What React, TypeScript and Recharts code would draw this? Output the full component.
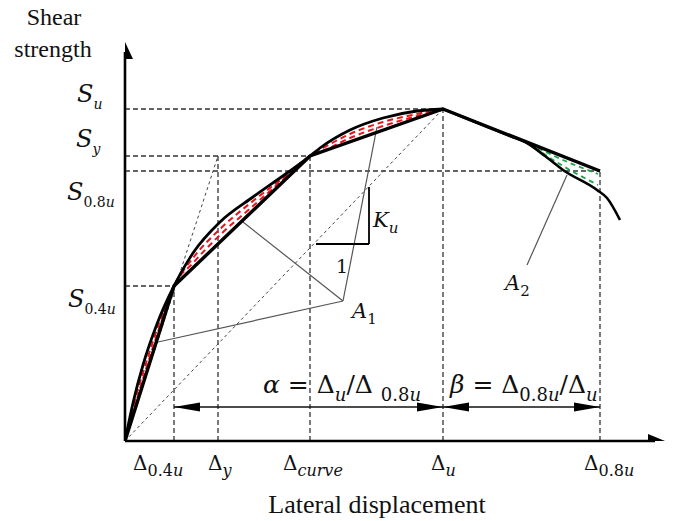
import React from 'react';
import { ComposedChart, Line, XAxis, YAxis, ReferenceLine, Scatter, Label } from 'recharts';

const MATH = '"DejaVu Serif", serif';
const TEXT = '"Liberation Serif", "Times New Roman", serif';

// Characteristic displacements (drawing units along the horizontal axis)
const dispKeys = ['0.4u', 'y', 'curve', 'u', '0.8u'];
const dispValues = [49, 93, 185, 318, 475];
// Characteristic strengths (drawing units along the vertical axis)
const strengthKeys = ['0.4u', '0.8u', 'y', 'u'];
const strengthValues = [155, 270, 285, 332];

const [D04, Dy, Dcurve, Du, D08] = dispValues;
const [S04, S08, Sy, Su] = strengthValues;

// Actual (measured) backbone curve: rising branch and falling branch
const riseX = [0, 8, 18, 32, 49, 68, 95, 128, 162, 185, 195, 225, 258, 292, 318];
const riseY = [0, 38, 76, 117, 155, 188, 219, 244, 268, 285, 293, 311, 323, 330, 332];
const fallX = [318, 355, 385, 402, 420, 438, 472, 482, 495];
const fallY = [332, 317, 305, 298, 285, 271, 251, 243, 221];

// Idealized polyline through the characteristic points
const idealX = [0, D04, Dcurve, Du, D08];
const idealY = [0, S04, Sy, Su, S08];

// Red hatch lines inside area A1
const hatchAX = [4, 12, 22, 35, 49, 68, 95, 128, 162, 185, 200, 225, 258, 292, 310];
const hatchAY = [17, 48, 81, 120, 155, 183, 212, 240, 266, 285, 294, 307, 319, 327, 331];
const hatchBX = [4, 12, 22, 35, 49, 68, 95, 128, 162, 185, 200, 225, 258, 292, 310];
const hatchBY = [14, 42, 75, 115, 155, 178, 206, 235, 265, 285, 291, 303, 315, 325, 330];

// Green hatch lines inside area A2
const greenAX = [405, 438, 473];
const greenAY = [297, 281, 267];
const greenBX = [410, 438, 473];
const greenBY = [293, 275, 256];

// Pointer lines for A1 / A2 and the K_u slope triangle
const a1Vertex = { x: 218, y: 140 };
const a1Targets = [{ x: 118, y: 219 }, { x: 252, y: 314 }, { x: 33, y: 99 }];
const a2From = { x: 442, y: 266 };
const a2To = { x: 402, y: 176 };
const kuX = [191, 244];
const kuY = [197, 254];

const axisXEnd = 540;
const axisYEnd = 399;
const dimLevel = 34;

const annotations = [
  { x: 227, y: 123, key: 'A1' },
  { x: 380, y: 151, key: 'A2' },
  { x: 248, y: 214, key: 'Ku' },
  { x: 217, y: 168, key: 'one' },
  { x: 138, y: 48, key: 'alpha' },
  { x: 325, y: 48, key: 'beta' },
];

const arrowHeads = [
  { x: axisXEnd, y: 0, kind: 'axisR' },
  { x: 0, y: axisYEnd, kind: 'axisU' },
  { x: D04, y: dimLevel, kind: 'dimL' },
  { x: Du, y: dimLevel, kind: 'dimR' },
  { x: Du, y: dimLevel, kind: 'dimL' },
  { x: D08, y: dimLevel, kind: 'dimR' },
];

const zip = (xs: number[], ys: number[]) => xs.map((x, i) => ({ x, y: ys[i] }));

type Seg = { t: string; sub?: boolean; it?: boolean };

const subSegs = (s: string): Seg[] => {
  const out: Seg[] = [];
  const re = /([0-9.]+|[^0-9.]+)/g;
  let m;
  while ((m = re.exec(s))) {
    const t = m[0];
    out.push({ t, sub: true, it: !/^[0-9.]+$/.test(t) });
  }
  return out;
};

const Rich = ({ x, y, segs, size, subSize, anchor = 'start', family = MATH }: any) => {
  let level = 0;
  const shift = size * 0.3;
  return (
    <text x={x} y={y} textAnchor={anchor} fontFamily={family} fill="#111">
      {segs.map((s: Seg, i: number) => {
        const target = s.sub ? 1 : 0;
        const dy = (target - level) * shift;
        level = target;
        return (
          <tspan key={i} dy={dy === 0 ? undefined : dy} fontSize={s.sub ? subSize : size} fontStyle={s.it ? 'italic' : 'normal'}>
            {s.t}
          </tspan>
        );
      })}
    </text>
  );
};

const xTickDx = [-41, -10, -27, -12, -16];
const XTick = (props: any) => {
  const { x, y, payload } = props;
  const i = dispValues.indexOf(payload.value);
  if (i < 0) return null;
  return <Rich x={x + xTickDx[i]} y={y + 21} size={20} subSize={16} segs={[{ t: 'Δ' }, ...subSegs(dispKeys[i])]} />;
};

const yTickStyle = [
  { x: 68, dy: 21 },
  { x: 67, dy: 29 },
  { x: 76, dy: -9 },
  { x: 77, dy: -7 },
];
const YTick = (props: any) => {
  const { y, payload } = props;
  const i = strengthValues.indexOf(payload.value);
  if (i < 0) return null;
  const st = yTickStyle[i];
  return <Rich x={st.x} y={y + st.dy} size={24} subSize={14} segs={[{ t: 'S', it: true }, ...subSegs(strengthKeys[i])]} />;
};

const annSegs: Record<string, { segs: Seg[]; size: number; sub: number }> = {
  A1: { segs: [{ t: 'A', it: true }, { t: '1', sub: true }], size: 21, sub: 15 },
  A2: { segs: [{ t: 'A', it: true }, { t: '2', sub: true }], size: 21, sub: 15 },
  Ku: { segs: [{ t: 'K', it: true }, { t: 'u', sub: true, it: true }], size: 21, sub: 15 },
  one: { segs: [{ t: '1' }], size: 19, sub: 14 },
  alpha: {
    segs: [{ t: 'α', it: true }, { t: ' = Δ' }, { t: 'u', sub: true, it: true }, { t: '/Δ ' }, ...subSegs('0.8u')],
    size: 25,
    sub: 18,
  },
  beta: {
    segs: [{ t: 'β', it: true }, { t: ' = Δ' }, ...subSegs('0.8u'), { t: '/Δ' }, { t: 'u', sub: true, it: true }],
    size: 25,
    sub: 18,
  },
};

const AnnShape = (props: any) => {
  const { cx, cy, payload } = props;
  const a = annSegs[payload.key];
  if (!a) return null;
  const anchor = payload.key === 'one' ? 'middle' : 'start';
  return <Rich x={cx} y={cy} size={a.size} subSize={a.sub} segs={a.segs} anchor={anchor} />;
};

const headStyle: Record<string, { dir: string; len: number; half: number }> = {
  axisR: { dir: 'right', len: 17, half: 7 },
  axisU: { dir: 'up', len: 17, half: 8 },
  dimL: { dir: 'left', len: 26, half: 4.5 },
  dimR: { dir: 'right', len: 26, half: 4.5 },
};

const ArrowHead = (props: any) => {
  const { cx, cy, payload } = props;
  const st = headStyle[payload.kind];
  let pts = '';
  if (st.dir === 'right') pts = `${cx},${cy} ${cx - st.len},${cy - st.half} ${cx - st.len},${cy + st.half}`;
  if (st.dir === 'left') pts = `${cx},${cy} ${cx + st.len},${cy - st.half} ${cx + st.len},${cy + st.half}`;
  if (st.dir === 'up') pts = `${cx},${cy} ${cx - st.half},${cy + st.len} ${cx + st.half},${cy + st.len}`;
  return <polygon points={pts} fill="#000" />;
};

const guide = { stroke: '#333', strokeWidth: 1.3, strokeDasharray: '5 3' };
const diag = { stroke: '#444', strokeWidth: 1, strokeDasharray: '3 3' };
const thin = { stroke: '#555', strokeWidth: 1.2 };

export default function App() {
  return (
    <div style={{ position: 'absolute', left: 0, top: 0, width: 675, height: 521, background: '#fff' }}>
      <ComposedChart width={675} height={521} margin={{ top: 0, right: 0, bottom: 0, left: 0 }}>
        <XAxis
          type="number"
          dataKey="x"
          domain={[0, 550]}
          allowDataOverflow
          ticks={dispValues}
          interval={0}
          axisLine={false}
          tickLine={false}
          height={80}
          tick={<XTick />}
        >
          <Label
            content={(p: any) => (
              <text x={p.viewBox.x + 252} y={p.viewBox.y + 72} textAnchor="middle" fontFamily={TEXT} fontSize={26} fill="#111">
                Lateral displacement
              </text>
            )}
          />
        </XAxis>
        <YAxis
          type="number"
          dataKey="y"
          domain={[0, 441]}
          allowDataOverflow
          ticks={strengthValues}
          interval={0}
          axisLine={false}
          tickLine={false}
          width={125}
          tick={<YTick />}
        >
          <Label
            content={(p: any) => (
              <text textAnchor="middle" fontFamily={TEXT} fontSize={24} fill="#111">
                <tspan x={p.viewBox.x + 54} y={p.viewBox.y + 25}>Shear</tspan>
                <tspan x={p.viewBox.x + 53} y={p.viewBox.y + 57}>strength</tspan>
              </text>
            )}
          />
        </YAxis>

        {/* dashed guide lines */}
        <ReferenceLine segment={[{ x: 0, y: Su }, { x: Du, y: Su }]} {...guide} />
        <ReferenceLine segment={[{ x: 0, y: Sy }, { x: Dcurve, y: Sy }]} {...guide} />
        <ReferenceLine segment={[{ x: 0, y: S08 }, { x: D08, y: S08 }]} {...guide} />
        <ReferenceLine segment={[{ x: 0, y: S04 }, { x: D04, y: S04 }]} {...guide} />
        <ReferenceLine segment={[{ x: D04, y: 0 }, { x: D04, y: S04 }]} {...guide} />
        <ReferenceLine segment={[{ x: Dy, y: 0 }, { x: Dy, y: Sy }]} {...guide} />
        <ReferenceLine segment={[{ x: Dcurve, y: 0 }, { x: Dcurve, y: Sy }]} {...guide} />
        <ReferenceLine segment={[{ x: Du, y: 0 }, { x: Du, y: Su }]} {...guide} />
        <ReferenceLine segment={[{ x: D08, y: 0 }, { x: D08, y: S08 }]} {...guide} />
        <ReferenceLine segment={[{ x: 0, y: 0 }, { x: Dy, y: Sy }]} {...diag} />
        <ReferenceLine segment={[{ x: 0, y: 0 }, { x: Du, y: Su }]} {...diag} />

        {/* pointer lines */}
        {a1Targets.map((t, i) => (
          <ReferenceLine key={'a1' + i} segment={[a1Vertex, t]} {...thin} />
        ))}
        <ReferenceLine segment={[a2From, a2To]} {...thin} />

        {/* K_u slope triangle */}
        <ReferenceLine segment={[{ x: kuX[0], y: kuY[0] }, { x: kuX[1], y: kuY[0] }]} stroke="#000" strokeWidth={1.8} />
        <ReferenceLine segment={[{ x: kuX[1], y: kuY[0] }, { x: kuX[1], y: kuY[1] }]} stroke="#000" strokeWidth={1.8} />

        {/* dimension line */}
        <ReferenceLine segment={[{ x: D04, y: dimLevel }, { x: D08, y: dimLevel }]} stroke="#111" strokeWidth={1.4} />

        {/* axes */}
        <ReferenceLine segment={[{ x: 0, y: 0 }, { x: axisXEnd - 10, y: 0 }]} stroke="#000" strokeWidth={2.6} />
        <ReferenceLine segment={[{ x: 0, y: 0 }, { x: 0, y: axisYEnd - 10 }]} stroke="#000" strokeWidth={2.6} />

        {/* hatch lines */}
        <Line data={zip(hatchAX, hatchAY)} dataKey="y" type="monotone" stroke="#e8141b" strokeWidth={2} strokeDasharray="6 4" dot={false} activeDot={false} isAnimationActive={false} />
        <Line data={zip(hatchBX, hatchBY)} dataKey="y" type="monotone" stroke="#e8141b" strokeWidth={2} strokeDasharray="6 4" dot={false} activeDot={false} isAnimationActive={false} />
        <Line data={zip(greenAX, greenAY)} dataKey="y" type="monotone" stroke="#1aa34a" strokeWidth={1.8} strokeDasharray="5 4" dot={false} activeDot={false} isAnimationActive={false} />
        <Line data={zip(greenBX, greenBY)} dataKey="y" type="monotone" stroke="#1aa34a" strokeWidth={1.8} strokeDasharray="5 4" dot={false} activeDot={false} isAnimationActive={false} />

        {/* actual curve and idealized polyline */}
        <Line data={zip(riseX, riseY)} dataKey="y" type="monotone" stroke="#000" strokeWidth={2.8} dot={false} activeDot={false} isAnimationActive={false} />
        <Line data={zip(fallX, fallY)} dataKey="y" type="monotone" stroke="#000" strokeWidth={2.6} dot={false} activeDot={false} isAnimationActive={false} />
        <Line data={zip(idealX, idealY)} dataKey="y" type="linear" stroke="#000" strokeWidth={3.4} dot={false} activeDot={false} isAnimationActive={false} />

        <Scatter data={arrowHeads} dataKey="y" shape={<ArrowHead />} isAnimationActive={false} />
        <Scatter data={annotations} dataKey="y" shape={<AnnShape />} isAnimationActive={false} />
      </ComposedChart>
    </div>
  );
}
